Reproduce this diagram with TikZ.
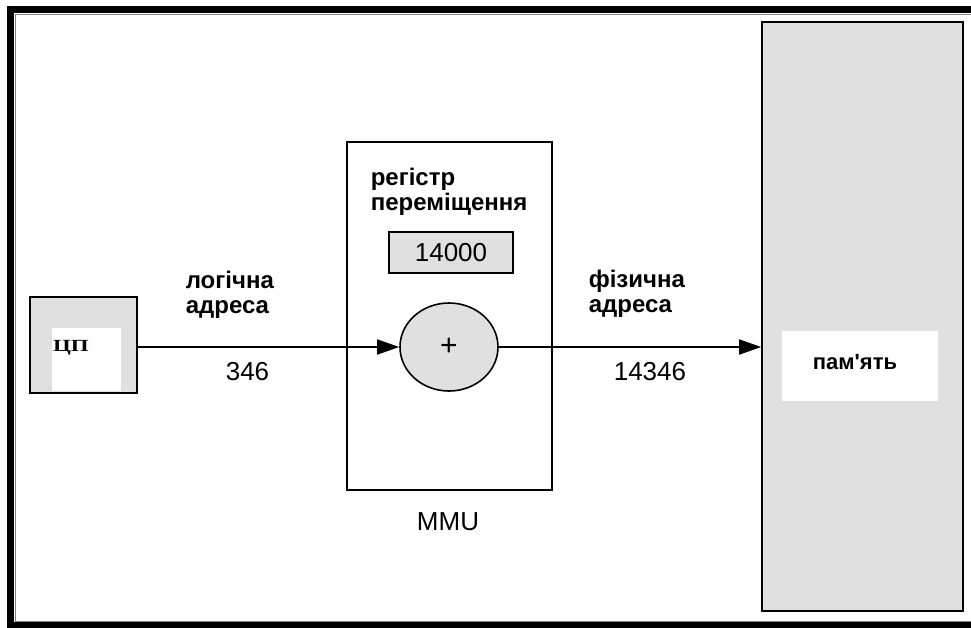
\documentclass[tikz,border=0pt]{standalone}
\usepackage{fontspec}
\setmainfont{Liberation Sans}
\newfontfamily\cyrserif{Liberation Serif}
\usetikzlibrary{arrows.meta,shapes.geometric}
\definecolor{boxgray}{RGB}{224,224,224}

\tikzset{
  graybox/.style={draw, fill=boxgray, line width=1.6pt, inner sep=0pt},
  whitebox/.style={draw, fill=white, line width=1.6pt, inner sep=0pt},
  lbl/.style={font=\bfseries\fontsize{24}{25}\selectfont, align=left, inner sep=0pt},
  num/.style={font=\fontsize{26}{30}\selectfont, inner sep=0pt},
}

\begin{document}
\begin{tikzpicture}[x=1pt, y=-1pt, >={Triangle[length=22pt,width=15pt]}, line width=1.6pt]
  \useasboundingbox (0,0) rectangle (971,627);
  % рамка
  \draw[line width=7pt] (1000,9.5) -- (10.5,9.5) -- (10.5,625) -- (1000,625);
  \draw[gray, line width=1pt] (1000,14.5) -- (15.5,14.5) -- (15.5,621) -- (1000,621);

  % ЦП
  \node[graybox, minimum width=107pt, minimum height=96pt] (cpu) at (83.5,345) {};
  \fill[white] (52,328) rectangle (121,391);
  \node[font=\cyrserif\bfseries\fontsize{17}{19}\selectfont, xscale=1.35, anchor=base west, inner sep=0pt] (cpulbl) at (52,351) {ЦП};

  % MMU
  \node[whitebox, minimum width=205pt, minimum height=348pt] (mmu) at (449.5,316) {};
  \node[lbl, anchor=base west] (reglbl) at (370,210) {регістр\\переміщення};
  \node[graybox, minimum width=124pt, minimum height=41pt, num] (reg) at (451,252.5) {14000};
  \node[graybox, ellipse, minimum width=98pt, minimum height=88pt, font=\fontsize{30}{32}\selectfont] (adder) at (449,347) {+};
  \node[num, anchor=base] (mmulbl) at (448,530) {MMU};

  % пам'ять
  \node[graybox, minimum width=201pt, minimum height=589pt] (mem) at (862.5,316.5) {};
  \fill[white] (782,331) rectangle (938,401);
  \node[lbl, font=\bfseries\fontsize{22}{25}\selectfont, anchor=base] (memlbl) at (855,369) {пам\textquotesingle ять};

  % стрілки
  \draw[->] (cpu.east |- adder.west) -- (adder.west);
  \draw[->] (adder.east) -- (adder.east -| mem.west);

  % підписи
  \node[lbl, anchor=base west] (logaddr) at (185,313) {логічна\\адреса};
  \node[num, anchor=base west] (lognum) at (225,380) {346};
  \node[lbl, anchor=base west] (physaddr) at (588,312) {фізична\\адреса};
  \node[num, anchor=base west] (physnum) at (613,380) {14346};
\end{tikzpicture}
\end{document}
